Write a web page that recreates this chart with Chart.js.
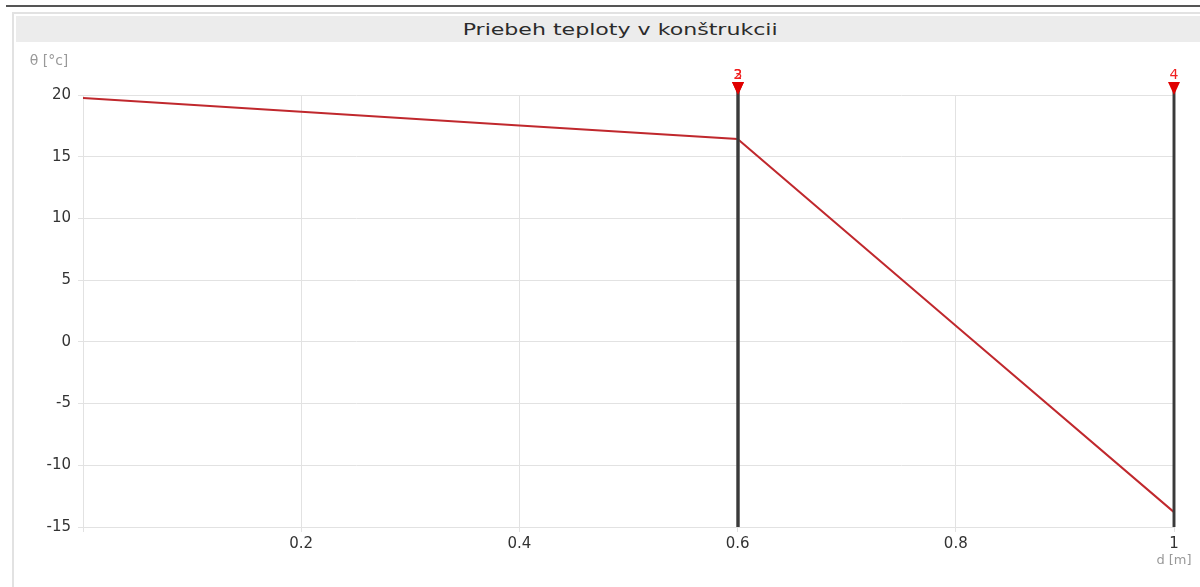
<!DOCTYPE html>
<html>
<head>
<meta charset="utf-8">
<script src="https://cdn.jsdelivr.net/npm/chart.js@4"></script>
<style>
  html, body { margin: 0; padding: 0; background: #fff; width: 1200px; height: 587px; overflow: hidden; }
  .rule { position: absolute; left: 6px; top: 5px; width: 1194px; height: 2px; background: #555; }
  .panel { position: absolute; left: 12px; top: 12px; width: 1200px; height: 600px; border: 2px solid #e2e2e2; box-sizing: border-box; }
  .bar { position: absolute; left: 16px; top: 16px; width: 1184px; height: 26px; background: #ececec; text-align: center; }
  .bar span { display: inline-block; margin-left: 25px; font: 16px "DejaVu Sans", Verdana, sans-serif; color: #2b2b2b;
              line-height: 27px; transform: scaleX(1.38); transform-origin: center; }
  .wrap { position: absolute; left: 0; top: 0; width: 1200px; height: 587px; }
</style>
</head>
<body>
<div class="rule"></div>
<div class="panel"></div>
<div class="bar"><span>Priebeh teploty v konštrukcii</span></div>
<div class="wrap"><canvas id="c" width="1200" height="587"></canvas></div>
<script>
// Temperature profile through the construction: depth d [m] vs. temperature θ [°C]
const depth = [0, 0.2, 0.4, 0.6, 0.8, 1.0];
const temperature = [19.76, 18.65, 17.52, 16.43, 1.3, -13.8];

// Layer interfaces (position and number)
const interfacePos = [0.6, 0.6, 1.0];
const interfaceLabel = ['2', '3', '4'];

const yTicks = [20, 15, 10, 5, 0, -5, -10, -15];
const xTicks = [0.2, 0.4, 0.6, 0.8, 1];

const FONT = '"DejaVu Sans", Verdana, sans-serif';

const interfaces = {
  id: 'interfaces',
  afterDatasetsDraw(chart) {
    const { ctx, chartArea, scales: { x } } = chart;
    ctx.save();
    interfacePos.forEach((p, i) => {
      const px = Math.round(x.getPixelForValue(p));
      // boundary line
      ctx.fillStyle = 'rgba(70,70,70,0.5)';
      ctx.fillRect(px - 2, 88, 4, chartArea.bottom - 88);
      ctx.fillStyle = '#3a3a3a';
      ctx.fillRect(px - 1, 88, 2, chartArea.bottom - 88);
      // marker
      ctx.fillStyle = '#e00000';
      ctx.beginPath();
      ctx.moveTo(px - 6, 82);
      ctx.lineTo(px + 6, 82);
      ctx.lineTo(px, 95);
      ctx.closePath();
      ctx.fill();
      ctx.font = '14px ' + FONT;
      ctx.textAlign = 'center';
      ctx.textBaseline = 'middle';
      ctx.fillStyle = '#f02020';
      ctx.fillText(interfaceLabel[i], px, 75);
    });
    // axis titles
    ctx.fillStyle = '#999';
    ctx.textAlign = 'center';
    ctx.textBaseline = 'middle';
    ctx.font = '14px ' + FONT;
    ctx.fillText('θ [°c]', 49, 61);
    ctx.font = '13px ' + FONT;
    ctx.fillText('d [m]', x.getPixelForValue(1), 561);
    ctx.restore();
  }
};

new Chart(document.getElementById('c'), {
  type: 'line',
  data: {
    labels: depth,
    datasets: [{
      data: depth.map((d, i) => ({ x: d, y: temperature[i] })),
      borderColor: '#c0282d',
      borderWidth: 2,
      pointRadius: 0,
      tension: 0,
      fill: false
    }]
  },
  options: {
    responsive: false,
    animation: false,
    layout: { padding: { left: 0, top: 95, right: 26, bottom: 0 } },
    plugins: { legend: { display: false }, tooltip: { enabled: false }, title: { display: false } },
    scales: {
      x: {
        type: 'linear',
        min: 0, max: 1,
        afterBuildTicks(s) { s.ticks = [0].concat(xTicks).map(v => ({ value: v })); },
        afterFit(s) { s.height = 60; },
        grid: { color: '#e2e2e2', lineWidth: 1, tickLength: 5, drawTicks: true },
        border: { display: true, color: '#e2e2e2' },
        ticks: {
          padding: 3,
          color: '#333',
          font: { family: FONT, size: 15 },
          callback: v => (v === 0 ? '' : String(v))
        }
      },
      y: {
        type: 'linear',
        min: -15, max: 20,
        afterBuildTicks(s) { s.ticks = yTicks.map(v => ({ value: v })); },
        afterFit(s) { s.width = 83; },
        grid: { color: '#e2e2e2', lineWidth: 1, tickLength: 5, drawTicks: true },
        border: { display: true, color: '#e2e2e2' },
        ticks: {
          padding: 7,
          color: '#333',
          font: { family: FONT, size: 15 }
        }
      }
    }
  },
  plugins: [interfaces]
});
</script>
</body>
</html>
